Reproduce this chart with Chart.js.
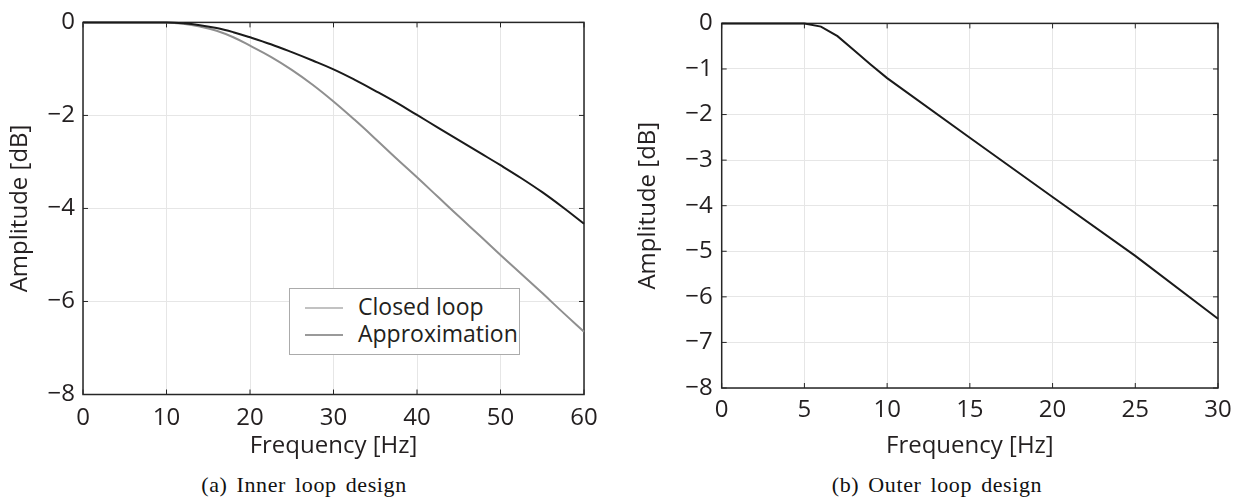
<!DOCTYPE html>
<html>
<head>
<meta charset="utf-8">
<script src="https://cdn.jsdelivr.net/npm/chart.js@4"></script>
<style>
  body { margin: 0; background: #fff; }
  #page { position: relative; width: 1242px; height: 500px; overflow: hidden; font-family: "Open Sans", sans-serif; color: #231f20; }
  canvas { position: absolute; top: 0; }
  #inner { left: 0; }
  #outer { left: 620px; }
  .legend { position: absolute; left: 289px; top: 288px; width: 229px; height: 65px; border: 1px solid #ababab; background: #fff; }
  .legend .swatch { position: absolute; left: 15px; width: 38px; height: 2px; }
  .legend .label { position: absolute; left: 68px; font-size: 23px; line-height: 27px; white-space: nowrap; }
  .caption { position: absolute; top: 473px; width: 400px; text-align: center; font-family: "Liberation Serif", serif; font-size: 22px; line-height: 24px; letter-spacing: 0.6px; word-spacing: 3px; color: #111; }
</style>
</head>
<body>
<div id="page">
  <canvas id="inner" width="620" height="470"></canvas>
  <canvas id="outer" width="622" height="470"></canvas>
  <div class="legend">
    <div class="swatch" style="top:18px; background:#c2c2c2;"></div>
    <div class="label" style="top:4px;">Closed loop</div>
    <div class="swatch" style="top:45px; background:#9a9a9a;"></div>
    <div class="label" style="top:31px;">Approximation</div>
  </div>
  <div class="caption" style="left:104px;">(a) Inner loop design</div>
  <div class="caption" style="left:737px;">(b) Outer loop design</div>
</div>
<script>
// (a) inner loop, frequency in Hz, amplitude in dB
const innerFreq = [0, 5, 10, 12, 14, 16, 18, 20, 22.5, 25, 27.5, 30, 32.5, 35, 37.5, 40, 42.5, 45, 47.5, 50, 52.5, 55, 57.5, 60];
const closedLoop = [0, 0, 0, -0.02, -0.06, -0.12, -0.21, -0.32, -0.47, -0.64, -0.82, -1.01, -1.23, -1.47, -1.72, -1.99, -2.26, -2.53, -2.8, -3.07, -3.35, -3.65, -3.98, -4.33];
const approximation = [0, 0, 0, -0.03, -0.09, -0.18, -0.32, -0.5, -0.74, -1.02, -1.34, -1.7, -2.09, -2.5, -2.92, -3.33, -3.75, -4.17, -4.58, -5.0, -5.41, -5.82, -6.24, -6.65];

// (b) outer loop
const outerFreq = [0, 5, 6, 7, 8, 9, 10, 15, 20, 25, 30];
const outerAmp = [0, 0, -0.07, -0.28, -0.59, -0.9, -1.2, -2.51, -3.81, -5.1, -6.48];

const innerXTicks = [0, 10, 20, 30, 40, 50, 60];
const innerYTicks = [0, -2, -4, -6, -8];
const outerXTicks = [0, 5, 10, 15, 20, 25, 30];
const outerYTicks = [0, -1, -2, -3, -4, -5, -6, -7, -8];

const textColor = "#231f20";
const tickFont = { family: "Open Sans", size: 24 };

function points(xs, ys) {
  return xs.map((x, i) => ({ x: x, y: ys[i] }));
}

function minus(v) {
  return v < 0 ? "\u2212" + Math.abs(v) : String(v);
}

// matlab style box with small inward ticks on every side
const frameBox = {
  id: "frameBox",
  beforeDatasetsDraw(chart) {
    const { ctx, chartArea: a, scales } = chart;
    ctx.save();
    ctx.strokeStyle = "#262626";
    ctx.lineWidth = 1.5;
    ctx.strokeRect(a.left, a.top, a.right - a.left, a.bottom - a.top);
    ctx.lineWidth = 1;
    ctx.beginPath();
    scales.x.ticks.forEach((t) => {
      const px = scales.x.getPixelForValue(t.value);
      ctx.moveTo(px, a.bottom); ctx.lineTo(px, a.bottom - 5);
      ctx.moveTo(px, a.top); ctx.lineTo(px, a.top + 5);
    });
    scales.y.ticks.forEach((t) => {
      const py = scales.y.getPixelForValue(t.value);
      ctx.moveTo(a.left, py); ctx.lineTo(a.left + 5, py);
      ctx.moveTo(a.right, py); ctx.lineTo(a.right - 5, py);
    });
    ctx.stroke();
    ctx.restore();
  },
};

function makeOptions(cfg) {
  return {
    responsive: false,
    animation: false,
    devicePixelRatio: 1,
    layout: { autoPadding: false, padding: cfg.padding },
    plugins: { legend: { display: false }, tooltip: { enabled: false } },
    elements: { point: { radius: 0 } },
    scales: {
      x: {
        type: "linear",
        min: cfg.xTicks[0],
        max: cfg.xTicks[cfg.xTicks.length - 1],
        afterBuildTicks: (s) => { s.ticks = cfg.xTicks.map((v) => ({ value: v })); },
        afterFit: (s) => { s.height = cfg.xHeight; },
        grid: { color: "#e6e6e6", lineWidth: 1, drawTicks: false },
        border: { display: false },
        ticks: { color: textColor, font: tickFont, padding: cfg.xPad, maxRotation: 0 },
        title: { display: true, text: "Frequency [Hz]", color: textColor, font: tickFont, padding: { top: 0, bottom: 9 } },
      },
      y: {
        type: "linear",
        min: -8,
        max: 0,
        afterBuildTicks: (s) => { s.ticks = cfg.yTicks.map((v) => ({ value: v })); },
        afterFit: (s) => { s.width = cfg.yWidth; },
        grid: { color: "#e6e6e6", lineWidth: 1, drawTicks: false },
        border: { display: false },
        ticks: { color: textColor, font: tickFont, padding: cfg.yPad, callback: (v) => minus(v) },
        title: { display: true, text: "Amplitude [dB]", color: textColor, font: tickFont, padding: { top: cfg.yTitlePad, bottom: 0 } },
      },
    },
  };
}

new Chart(document.getElementById("inner"), {
  type: "line",
  data: {
    datasets: [
      {
        label: "Closed loop",
        data: points(innerFreq, closedLoop),
        borderColor: "#1a1a1a",
        borderWidth: 2,
        tension: 0.4,
        clip: false,
      },
      {
        label: "Approximation",
        data: points(innerFreq, approximation),
        borderColor: "#8f8f8f",
        borderWidth: 2,
        tension: 0.4,
        clip: false,
      },
    ],
  },
  options: makeOptions({
    padding: { top: 16, right: 36, left: 0, bottom: 0 },
    xTicks: innerXTicks,
    yTicks: innerYTicks,
    xHeight: 75.5,
    yWidth: 83,
    xPad: 9,
    yPad: 8,
    yTitlePad: 6,
  }),
  plugins: [frameBox],
});

new Chart(document.getElementById("outer"), {
  type: "line",
  data: {
    datasets: [
      {
        label: "Outer loop",
        data: points(outerFreq, outerAmp),
        borderColor: "#1a1a1a",
        borderWidth: 2,
        tension: 0,
        clip: false,
      },
    ],
  },
  options: makeOptions({
    padding: { top: 12.7, right: 24, left: 0, bottom: 0 },
    xTicks: outerXTicks,
    yTicks: outerYTicks,
    xHeight: 82,
    yWidth: 101.7,
    xPad: 8,
    yPad: 9,
    yTitlePad: 14,
  }),
  plugins: [frameBox],
});
</script>
</body>
</html>
